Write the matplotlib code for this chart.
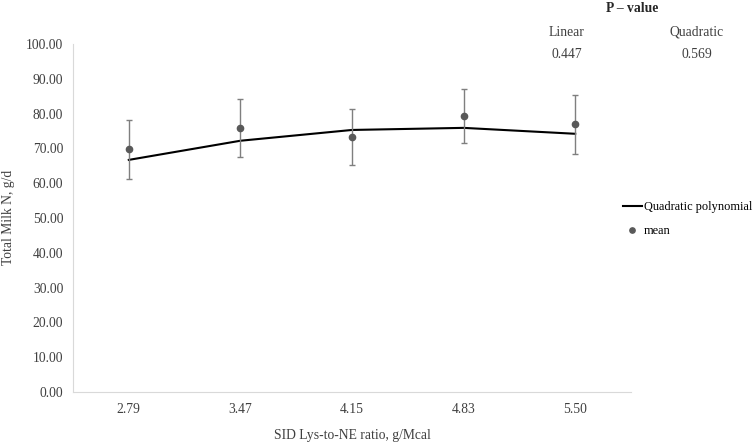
import numpy as np
import matplotlib.pyplot as plt

plt.rcParams['font.family'] = ['Liberation Serif', 'DejaVu Serif']

ratios = ['2.79', '3.47', '4.15', '4.83', '5.50']
mean_n = [69.7, 75.9, 73.3, 79.3, 76.9]
sem_n = [8.4, 8.3, 8.0, 7.7, 8.4]
quad_fit = [66.7, 72.2, 75.3, 75.9, 74.2]
p_labels = ['Linear', 'Quadratic']
p_values = ['0.447', '0.569']

fs = 9.8
fig = plt.figure(figsize=(7.55, 4.42), dpi=100)
ax = fig.add_axes([73 / 755, 50 / 442, 558 / 755, 348 / 442])

x = np.arange(len(ratios))
line, = ax.plot(x, quad_fit, color='black', lw=1.5, zorder=3)
eb = ax.errorbar(x, mean_n, yerr=sem_n, fmt='o', color='#595959', ms=4.5,
                 ecolor='#7f7f7f', elinewidth=1, capsize=2.5, capthick=1, zorder=4)

ax.set_xlim(-0.5, len(ratios) - 0.5)
ax.set_ylim(0, 100)
ax.set_yticks(np.arange(0, 101, 10))
ax.set_yticklabels([f'{v:.2f}' for v in np.arange(0, 101, 10)])
ax.set_xticks(x)
ax.set_xticklabels(ratios)
ax.tick_params(length=0, labelsize=fs, colors='#404040')
ax.tick_params(axis='y', pad=7)
ax.tick_params(axis='x', pad=8)
for s in ['top', 'right']:
    ax.spines[s].set_visible(False)
for s in ['left', 'bottom']:
    ax.spines[s].set_color('#d9d9d9')

fig.text(352 / 755, 1 - 436 / 442, 'SID Lys-to-NE ratio, g/Mcal', ha='center', va='center',
         fontsize=fs, color='#404040')
fig.text(9 / 755, 1 - 217 / 442, 'Total Milk N, g/d', ha='center', va='center',
         rotation=90, fontsize=fs, color='#404040')

fig.legend([line, eb[0]], ['Quadratic polynomial', 'mean'], loc='upper left',
           bbox_to_anchor=(623 / 755, 1 - 201 / 442), frameon=False, fontsize=8.9,
           borderpad=0, borderaxespad=0, markerscale=0.85,
           handlelength=1.5, handletextpad=0.2, labelspacing=1.0)

fig.text(632 / 755, 1 - 8 / 442, 'P – value', ha='center', va='center',
         fontsize=fs, fontweight='bold', color='#262626')
for cx, lab, val in zip([567, 697], p_labels, p_values):
    fig.text(cx / 755, 1 - 32 / 442, lab, ha='center', va='center', fontsize=fs, color='#404040')
    fig.text(cx / 755, 1 - 54 / 442, val, ha='center', va='center', fontsize=fs, color='#404040')

fig.savefig('out.png', dpi=100)
